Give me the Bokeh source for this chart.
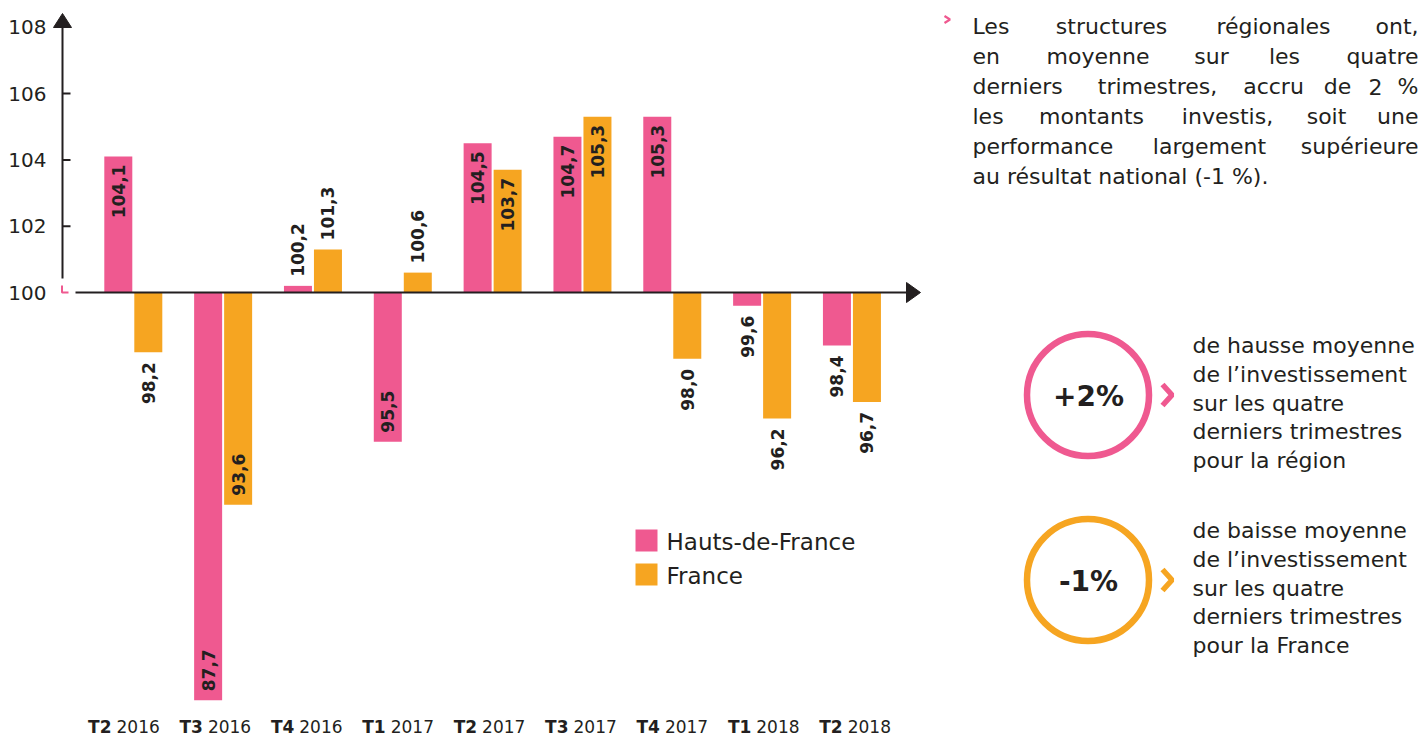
from bokeh.plotting import figure
from bokeh.models import Range1d
from bokeh.core.properties import value
from bokeh.embed import file_html
from bokeh.resources import INLINE
import math

# ---------------- data ----------------
quarters = ["T2", "T3", "T4", "T1", "T2", "T3", "T4", "T1", "T2"]
years = ["2016", "2016", "2016", "2017", "2017", "2017", "2017", "2018", "2018"]
hauts_de_france = [104.1, 87.7, 100.2, 95.5, 104.5, 104.7, 105.3, 99.6, 98.4]
france = [98.2, 93.6, 101.3, 100.6, 103.7, 105.3, 98.0, 96.2, 96.7]
y_ticks = [100, 102, 104, 106, 108]
series_names = ["Hauts-de-France", "France"]

paragraph = [
    ["Les", "structures", "régionales", "ont,"],
    ["en", "moyenne", "sur", "les", "quatre"],
    ["derniers", "trimestres,", "accru", "de", "2", "%"],
    ["les", "montants", "investis,", "soit", "une"],
    ["performance", "largement", "supérieure"],
    ["au résultat national (-1 %)."],
]
kpi_values = ["+2%", "-1%"]
kpi_texts = [
    ["de hausse moyenne", "de l’investissement", "sur les quatre",
     "derniers trimestres", "pour la région"],
    ["de baisse moyenne", "de l’investissement", "sur les quatre",
     "derniers trimestres", "pour la France"],
]

# ---------------- styling / layout ----------------
PINK = "#EF5990"
ORANGE = "#F6A521"
DARK = "#231F20"
FONT = "DejaVu Sans"

W, H = 1421, 737
X0, PX = 132.8, 89.83      # pixel of category 0, pixels per category
Y100, PY = 292.0, 33.15    # pixel of value 100, pixels per unit


def dx(px):
    return (px - X0) / PX


def dy(py):
    return 100 + (Y100 - py) / PY


p = figure(width=W, height=H, x_range=Range1d(dx(0), dx(W)),
           y_range=Range1d(dy(H), dy(0)), output_backend="svg",
           toolbar_location=None, min_border=0,
           x_axis_location=None, y_axis_location=None)
p.grid.visible = False
p.outline_line_color = None
p.background_fill_color = "white"

n = len(quarters)
idx = list(range(n))
off = 15 / PX
bw = 28 / PX

p.vbar(x=[i - off for i in idx], bottom=100, top=hauts_de_france,
       width=bw, fill_color=PINK, line_color=None)
p.vbar(x=[i + off for i in idx], bottom=100, top=france,
       width=bw, fill_color=ORANGE, line_color=None)

# value labels (rotated)
groups = {"left": ([], [], []), "right": ([], [], [])}
for series, sgn in ((hauts_de_france, -1), (france, 1)):
    for i, v in enumerate(series):
        if v > 102:
            y, al = v - 8 / PY, "right"
        elif v >= 100:
            y, al = v + 9 / PY, "left"
        elif v >= 96:
            y, al = v - 10 / PY, "right"
        else:
            y, al = v + 9 / PY, "left"
        g = groups[al]
        g[0].append(i + sgn * off)
        g[1].append(y)
        g[2].append(f"{v:.1f}".replace(".", ","))
for al, (xs, ys, ts) in groups.items():
    p.text(x=xs, y=ys, text=ts, angle=math.pi / 2, text_align=al,
           text_baseline="middle", text_font=value(FONT),
           text_font_style="bold", text_font_size="17px", text_color=DARK)

# baseline (value 100) with arrow
p.segment(x0=dx(75), y0=100, x1=dx(907), y1=100, line_color=DARK, line_width=2)
p.patch(x=[dx(906), dx(906), dx(920)], y=[dy(282), dy(302), 100],
        fill_color=DARK, line_color=DARK)

# y axis with arrow and ticks
p.segment(x0=dx(62), y0=dy(278), x1=dx(62), y1=dy(27), line_color=DARK,
          line_width=2)
p.patch(x=[dx(53), dx(71), dx(62)], y=[dy(27), dy(27), dy(13)],
        fill_color=DARK, line_color=DARK)
mid_ticks = [t for t in y_ticks if 100 < t < max(y_ticks)]
p.segment(x0=[dx(62)] * len(mid_ticks), y0=mid_ticks,
          x1=[dx(70)] * len(mid_ticks), y1=mid_ticks,
          line_color=DARK, line_width=2)
p.text(x=[dx(46)] * len(y_ticks), y=y_ticks, text=[str(t) for t in y_ticks],
       text_align="right", text_baseline="middle", text_font=value(FONT),
       text_font_size="20px", text_color=DARK)
# small pink corner mark
p.line(x=[dx(61.5), dx(61.5), dx(68)], y=[dy(285), dy(292), dy(292)],
       line_color=PINK, line_width=2)

# x category labels: bold quarter + regular year
lab_c = [121 + 91.4 * i for i in idx]
lab_y = dy(726)
p.text(x=[dx(c - 10) for c in lab_c], y=[lab_y] * n, text=quarters,
       text_align="right", text_baseline="middle", text_font=value(FONT),
       text_font_style="bold", text_font_size="17px", text_color=DARK)
p.text(x=[dx(c - 5) for c in lab_c], y=[lab_y] * n, text=years,
       text_align="left", text_baseline="middle", text_font=value(FONT),
       text_font_size="17px", text_color=DARK)

# legend (drawn manually)
leg_cy = [540, 574]
p.scatter(x=[dx(646)] * 2, y=[dy(c) for c in leg_cy], marker="square",
          size=22, fill_color=[PINK, ORANGE], line_color=None)
p.text(x=[dx(666)] * 2, y=[dy(c + 1) for c in leg_cy], text=series_names,
       text_align="left", text_baseline="middle", text_font=value(FONT),
       text_font_size="23px", text_color=DARK)

# paragraph (justified)
para_pos = [
    [(972, "left"), (1111, "center"), (1273, "center"), (1418, "right")],
    [(972, "left"), (1097.5, "center"), (1211, "center"), (1284, "center"),
     (1418, "right")],
    [(972, "left"), (1157, "center"), (1273, "center"), (1337, "center"),
     (1375, "center"), (1418, "right")],
    [(972, "left"), (1091, "center"), (1227, "center"), (1326, "center"),
     (1418, "right")],
    [(972, "left"), (1209, "center"), (1418, "right")],
    [(972, "left")],
]
for li, (words, poss) in enumerate(zip(paragraph, para_pos)):
    yb = 26 + 30 * li
    for w, (xp, al) in zip(words, poss):
        p.text(x=[dx(xp)], y=[dy(yb)], text=[w], text_align=al,
               text_baseline="alphabetic", text_font=value(FONT),
               text_font_size="22px", text_color=DARK)
# bullet chevron
p.line(x=[dx(944), dx(949.5), dx(944)], y=[dy(15.5), dy(19), dy(22.5)],
       line_color=PINK, line_width=2.2)

# KPI circles
kpi_cy = [394.5, 579.5]
kpi_col = [PINK, ORANGE]
p.scatter(x=[dx(1087.5)] * 2, y=[dy(c) for c in kpi_cy], marker="circle",
          size=122, fill_color=None, line_color=kpi_col, line_width=6.5)
p.text(x=[dx(1088)] * 2, y=[dy(c + 1) for c in kpi_cy], text=kpi_values,
       text_align="center", text_baseline="middle", text_font=value(FONT),
       text_font_style="bold", text_font_size="28px", text_color=DARK)
for c, col in zip(kpi_cy, kpi_col):
    p.line(x=[dx(1162), dx(1171.5), dx(1162)], y=[dy(c - 10.5), dy(c), dy(c + 10.5)],
           line_color=col, line_width=5.5)
kpi_base = [345, 530]
for b, lines in zip(kpi_base, kpi_texts):
    p.text(x=[dx(1192)] * len(lines), y=[dy(b + 28.8 * k) for k in range(len(lines))],
           text=lines, text_align="left", text_baseline="alphabetic",
           text_font=value(FONT), text_font_size="22px", text_color=DARK)

open("out.html", "w").write(file_html(p, INLINE))
